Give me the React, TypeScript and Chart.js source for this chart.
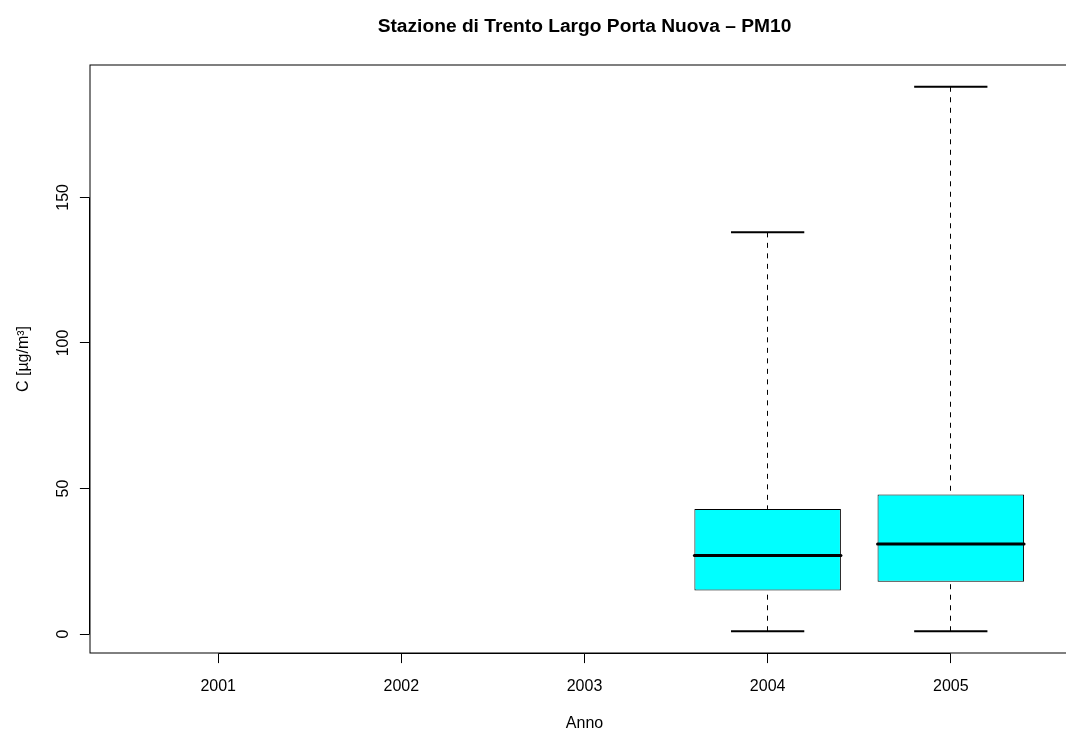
import React, { useEffect, useRef } from "react";
import { Chart, registerables } from "chart.js";

Chart.register(...registerables);

// Annual PM10 concentration summary, Trento Largo Porta Nuova
const years = ["2001", "2002", "2003", "2004", "2005"];
const minVals: (number | null)[] = [null, null, null, 1, 1];
const q1Vals: (number | null)[] = [null, null, null, 15, 18];
const medianVals: (number | null)[] = [null, null, null, 27, 31];
const q3Vals: (number | null)[] = [null, null, null, 43, 48];
const maxVals: (number | null)[] = [null, null, null, 138, 188];
const yTicks = [0, 50, 100, 150];

const titleText = "Stazione di Trento Largo Porta Nuova \u2013 PM10";
const xTitle = "Anno";
const yTitle = "C [\u00b5g/m\u00b3]";

const FONT = '"Liberation Sans", Arial, Helvetica, sans-serif';
const BOX_WIDTH = 0.8; // box width in category units
const STAPLE_WIDTH = 0.4; // whisker cap width in category units
const TICK_LEN = 9.6;

const boxData = years
  .map((_, i) =>
    q1Vals[i] == null ? null : { x: i + 1, y: [q1Vals[i] as number, q3Vals[i] as number] }
  )
  .filter((d) => d !== null);

// Whiskers, caps and medians drawn over the box bars
const boxPlotPlugin = {
  id: "boxPlotExtras",
  afterDatasetsDraw(chart: any) {
    const { ctx, scales } = chart;
    const xs = scales.x;
    const ys = scales.y;
    const unit = xs.getPixelForValue(2) - xs.getPixelForValue(1);
    ctx.save();
    years.forEach((_, i) => {
      if (medianVals[i] == null) return;
      const cx = xs.getPixelForValue(i + 1);
      const wx = Math.floor(cx) + 0.5;
      const yMin = ys.getPixelForValue(minVals[i]);
      const yQ1 = ys.getPixelForValue(q1Vals[i]);
      const yMed = ys.getPixelForValue(medianVals[i]);
      const yQ3 = ys.getPixelForValue(q3Vals[i]);
      const yMax = ys.getPixelForValue(maxVals[i]);

      // dashed whiskers, drawn from the extremes toward the box
      ctx.strokeStyle = "#000";
      ctx.lineWidth = 1;
      ctx.setLineDash([5, 5.5]);
      ctx.lineCap = "butt";
      ctx.beginPath();
      ctx.moveTo(wx, yMin);
      ctx.lineTo(wx, yQ1);
      ctx.moveTo(wx, yMax);
      ctx.lineTo(wx, yQ3);
      ctx.stroke();
      ctx.setLineDash([]);

      // caps
      const half = (STAPLE_WIDTH * unit) / 2;
      ctx.lineWidth = 2;
      ctx.beginPath();
      ctx.moveTo(cx - half, yMin);
      ctx.lineTo(cx + half, yMin);
      ctx.moveTo(cx - half, yMax);
      ctx.lineTo(cx + half, yMax);
      ctx.stroke();

      // median
      const bh = (BOX_WIDTH * unit) / 2;
      ctx.lineWidth = 3;
      ctx.lineCap = "round";
      ctx.beginPath();
      ctx.moveTo(cx - bh, yMed);
      ctx.lineTo(cx + bh, yMed);
      ctx.stroke();
    });
    ctx.restore();
  },
  afterDraw(chart: any) {
    const { ctx, scales, chartArea } = chart;
    const xs = scales.x;
    const ys = scales.y;
    const { left, top, right, bottom } = chartArea;
    ctx.save();
    ctx.strokeStyle = "#000";
    ctx.fillStyle = "#000";
    ctx.lineWidth = 1;

    // plot frame
    ctx.strokeRect(left, top, right - left, bottom - top);

    // x axis
    const ax = bottom + 0.5;
    const x1 = Math.floor(xs.getPixelForValue(1)) + 0.5;
    const x5 = Math.floor(xs.getPixelForValue(years.length)) + 0.5;
    ctx.beginPath();
    ctx.moveTo(x1, ax);
    ctx.lineTo(x5, ax);
    years.forEach((_, i) => {
      const px = Math.floor(xs.getPixelForValue(i + 1)) + 0.5;
      ctx.moveTo(px, ax);
      ctx.lineTo(px, ax + TICK_LEN);
    });
    ctx.stroke();

    ctx.font = `16px ${FONT}`;
    ctx.textAlign = "center";
    ctx.textBaseline = "alphabetic";
    years.forEach((y, i) => {
      ctx.fillText(y, xs.getPixelForValue(i + 1), 691);
    });

    // y axis
    const ay = left - 0.5;
    const y0 = ys.getPixelForValue(yTicks[0]);
    const yN = ys.getPixelForValue(yTicks[yTicks.length - 1]);
    ctx.beginPath();
    ctx.moveTo(ay, y0);
    ctx.lineTo(ay, yN);
    yTicks.forEach((t) => {
      const py = Math.floor(ys.getPixelForValue(t)) + 0.5;
      ctx.moveTo(ay, py);
      ctx.lineTo(ay - TICK_LEN, py);
    });
    ctx.stroke();

    yTicks.forEach((t) => {
      ctx.save();
      ctx.translate(68, ys.getPixelForValue(t));
      ctx.rotate(-Math.PI / 2);
      ctx.fillText(String(t), 0, 0);
      ctx.restore();
    });

    // axis titles
    const midX = (left + right) / 2;
    const midY = (top + bottom) / 2;
    ctx.fillText(xTitle, midX, 728.3);
    ctx.save();
    ctx.translate(28.3, midY);
    ctx.rotate(-Math.PI / 2);
    ctx.fillText(yTitle, 0, 0);
    ctx.restore();

    // main title
    ctx.font = `bold 19.2px ${FONT}`;
    ctx.fillText(titleText, midX, 31.6);
    ctx.restore();
  },
};

export default function App() {
  const canvasRef = useRef<HTMLCanvasElement | null>(null);

  useEffect(() => {
    document.body.style.margin = "0";
    const canvas = canvasRef.current;
    if (!canvas) return;
    const chart = new Chart(canvas, {
      type: "bar",
      data: {
        datasets: [
          {
            data: boxData as any,
            backgroundColor: "#00FFFF",
            borderColor: "#000000",
            borderWidth: 1,
            borderSkipped: false,
            barPercentage: BOX_WIDTH,
            categoryPercentage: 1,
          },
        ],
      },
      options: {
        animation: false,
        responsive: false,
        devicePixelRatio: 1,
        layout: { padding: { left: 90, top: 65, right: 0, bottom: 78 } },
        plugins: {
          legend: { display: false },
          tooltip: { enabled: false },
          title: { display: false },
        },
        scales: {
          x: {
            type: "linear",
            min: 0.3,
            max: 5.7,
            offset: false,
            display: false,
            afterBuildTicks: (s: any) => {
              s.ticks = years.map((_, i) => ({ value: i + 1 }));
            },
          },
          y: {
            type: "linear",
            min: -6.48,
            max: 195.48,
            display: false,
          },
        },
      },
      plugins: [boxPlotPlugin],
    });
    return () => chart.destroy();
  }, []);

  return (
    <div
      style={{
        position: "fixed",
        left: 0,
        top: 0,
        width: 1066,
        height: 731,
        overflow: "hidden",
        background: "#fff",
      }}
    >
      <canvas ref={canvasRef} width={1079} height={731} />
    </div>
  );
}
